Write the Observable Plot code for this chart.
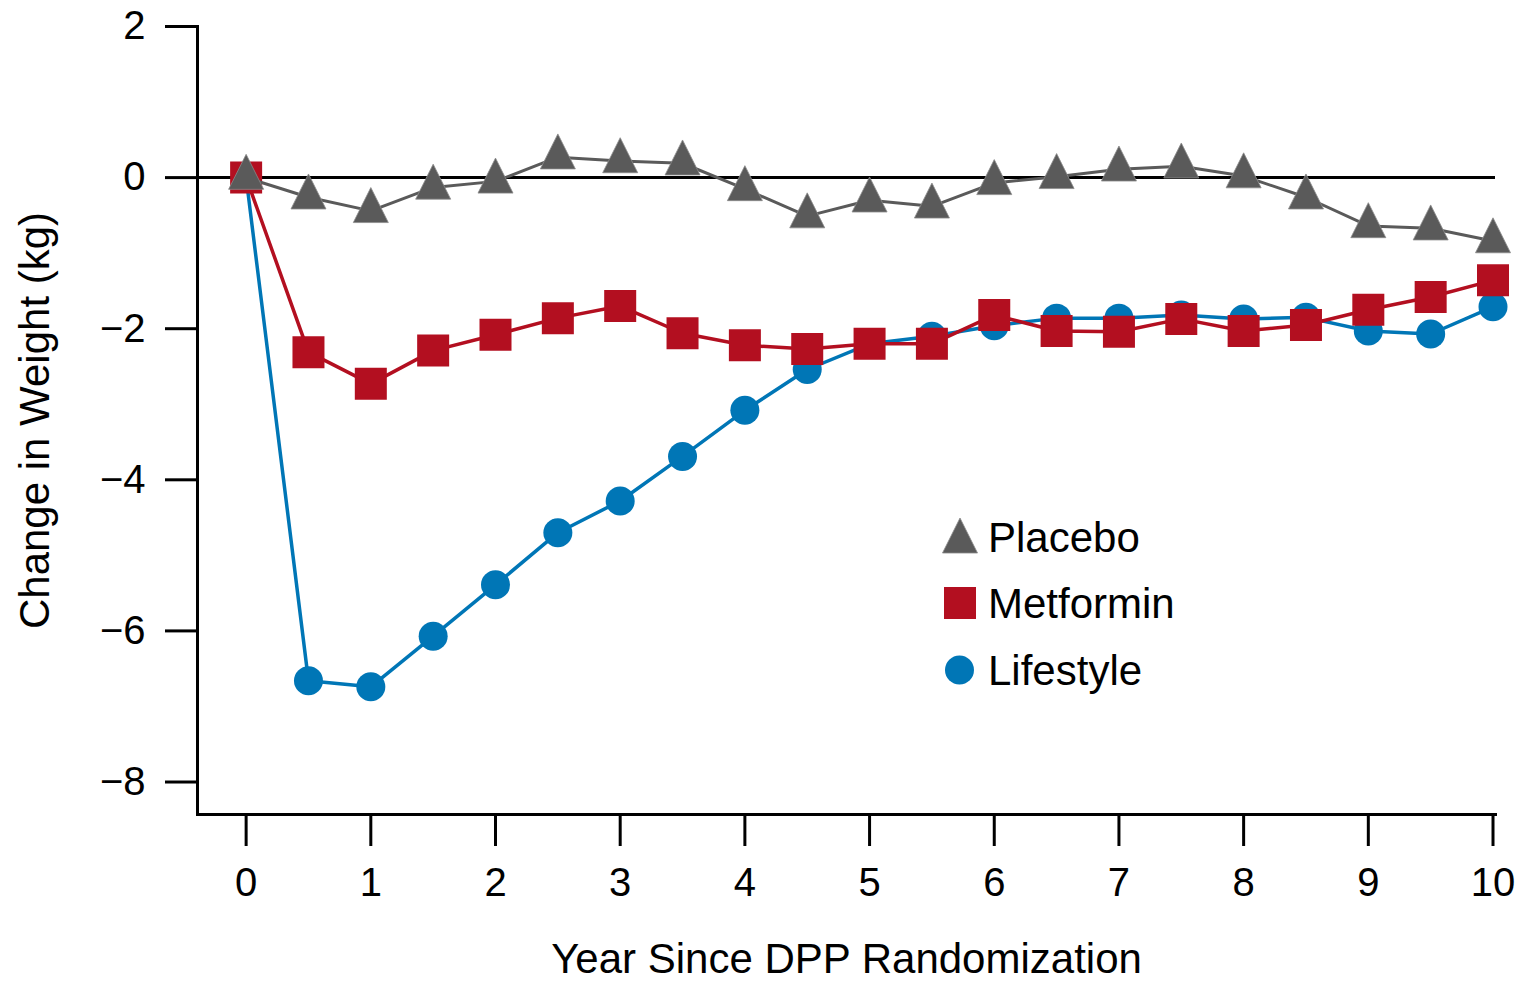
<!DOCTYPE html>
<html>
<head>
<meta charset="utf-8">
<script src="https://cdn.jsdelivr.net/npm/d3@7"></script>
<script src="https://cdn.jsdelivr.net/npm/@observablehq/plot@0.6"></script>
<style>
  body { margin: 0; background: #fff; }
  #wrap { position: relative; width: 1524px; height: 981px; font-family: "Liberation Sans", Arial, Helvetica, sans-serif; }
  #legend { position: absolute; left: 0; top: 0; pointer-events: none; }
</style>
</head>
<body>
<div id="wrap"></div>
<script>
// ---- Data ----
const years = [0, 0.5, 1, 1.5, 2, 2.5, 3, 3.5, 4, 4.5, 5, 5.5, 6, 6.5, 7, 7.5, 8, 8.5, 9, 9.5, 10];
const placebo   = [0, -0.26, -0.44, -0.13, -0.05, 0.27, 0.22, 0.19, -0.15, -0.51, -0.30, -0.38, -0.07, 0.01, 0.11, 0.15, 0.02, -0.26, -0.64, -0.67, -0.84];
const metformin = [0, -2.31, -2.73, -2.29, -2.08, -1.86, -1.70, -2.06, -2.22, -2.27, -2.20, -2.20, -1.82, -2.03, -2.04, -1.87, -2.03, -1.95, -1.75, -1.58, -1.36];
const lifestyle = [0, -6.66, -6.74, -6.07, -5.39, -4.70, -4.28, -3.69, -3.08, -2.54, -2.20, -2.10, -1.96, -1.86, -1.86, -1.82, -1.87, -1.85, -2.03, -2.07, -1.71];
const xTicks = [0, 1, 2, 3, 4, 5, 6, 7, 8, 9, 10];
const yTicks = [-8, -6, -4, -2, 0, 2];
const seriesNames = ["Placebo", "Metformin", "Lifestyle"];
const colors = {Placebo: "#5a5a5a", Metformin: "#b30f20", Lifestyle: "#0076b6"};
const xLabel = "Year Since DPP Randomization";
const yLabel = "Change in Weight (kg)";

const rows = name => {
  const vals = name === "Placebo" ? placebo : name === "Metformin" ? metformin : lifestyle;
  return years.map((y, i) => ({year: y, value: vals[i], group: name}));
};
const pData = rows("Placebo"), mData = rows("Metformin"), lData = rows("Lifestyle");

// custom symbols
const triangleSym = {draw(ctx, size) {
  const r = Math.sqrt(size / Math.PI);
  ctx.moveTo(0, -1.33 * r); ctx.lineTo(r, 0.67 * r); ctx.lineTo(-r, 0.67 * r); ctx.closePath();
}};
const squareSym = {draw(ctx, size) {
  const r = Math.sqrt(size / Math.PI);
  ctx.rect(-r, -r, 2 * r, 2 * r);
}};

const fmt = d => d < 0 ? "\u2212" + Math.abs(d) : String(d);
const font = "'Liberation Sans', Arial, Helvetica, sans-serif";

const chart = Plot.plot({
  width: 1524,
  height: 981,
  marginLeft: 197,
  marginRight: 29,
  marginTop: 26,
  marginBottom: 167,
  x: {domain: [-0.39, 10.02]},
  y: {domain: [-8.43, 2]},
  style: {fontFamily: font, color: "#000", background: "#fff", overflow: "visible"},
  marks: [
    Plot.ruleY([0], {stroke: "#000", strokeWidth: 3}),
    Plot.frame({anchor: "left", stroke: "#000", strokeWidth: 3}),
    Plot.frame({anchor: "bottom", stroke: "#000", strokeWidth: 3}),
    Plot.axisY(yTicks, {tickSize: 32, tickPadding: 20, fontSize: 40, strokeWidth: 3, tickFormat: fmt, label: null}),
    Plot.axisY({ticks: [], label: yLabel, labelAnchor: "center", labelArrow: "none", labelOffset: 178, fontSize: 42}),
    Plot.axisX(xTicks, {tickSize: 32, tickPadding: 21, fontSize: 40, strokeWidth: 3, tickFormat: fmt, label: null}),
    Plot.axisX({ticks: [], label: xLabel, labelAnchor: "center", labelArrow: "none", labelOffset: 158, fontSize: 42}),
    // Lifestyle
    Plot.line(lData, {x: "year", y: "value", stroke: colors.Lifestyle, strokeWidth: 3.5}),
    Plot.dot(lData, {x: "year", y: "value", r: 14.5, symbol: "circle", fill: colors.Lifestyle, stroke: "none"}),
    // Metformin
    Plot.line(mData, {x: "year", y: "value", stroke: colors.Metformin, strokeWidth: 3.5}),
    Plot.dot(mData, {x: "year", y: "value", r: 16, symbol: squareSym, fill: colors.Metformin, stroke: "none"}),
    // Placebo
    Plot.line(pData, {x: "year", y: "value", stroke: colors.Placebo, strokeWidth: 3}),
    Plot.dot(pData, {x: "year", y: "value", r: 17.5, symbol: triangleSym, fill: colors.Placebo, stroke: "#8a8a8a", strokeWidth: 0.8})
  ]
});

const wrap = document.getElementById("wrap");
wrap.appendChild(chart);

// Legend (overlay inside plot area)
const ns = "http://www.w3.org/2000/svg";
const leg = document.createElementNS(ns, "svg");
leg.setAttribute("id", "legend");
leg.setAttribute("width", 1524);
leg.setAttribute("height", 981);
const items = [
  {name: seriesNames[0], cy: 537, sym: "tri"},
  {name: seriesNames[1], cy: 603, sym: "sq"},
  {name: seriesNames[2], cy: 670, sym: "circ"}
];
let html = "";
for (const it of items) {
  const c = colors[it.name];
  if (it.sym === "tri") html += `<path d="M960,${it.cy - 19}L977.5,${it.cy + 16}L942.5,${it.cy + 16}Z" fill="${c}" stroke="#8a8a8a" stroke-width="0.8"/>`;
  if (it.sym === "sq") html += `<rect x="944" y="${it.cy - 16}" width="32" height="32" fill="${c}"/>`;
  if (it.sym === "circ") html += `<circle cx="959.5" cy="${it.cy}" r="14.5" fill="${c}"/>`;
  html += `<text x="988" y="${it.cy + 15}" font-size="42" font-family="${font.replace(/'/g, "")}" fill="#000">${it.name}</text>`;
}
leg.innerHTML = html;
wrap.appendChild(leg);
</script>
</body>
</html>
